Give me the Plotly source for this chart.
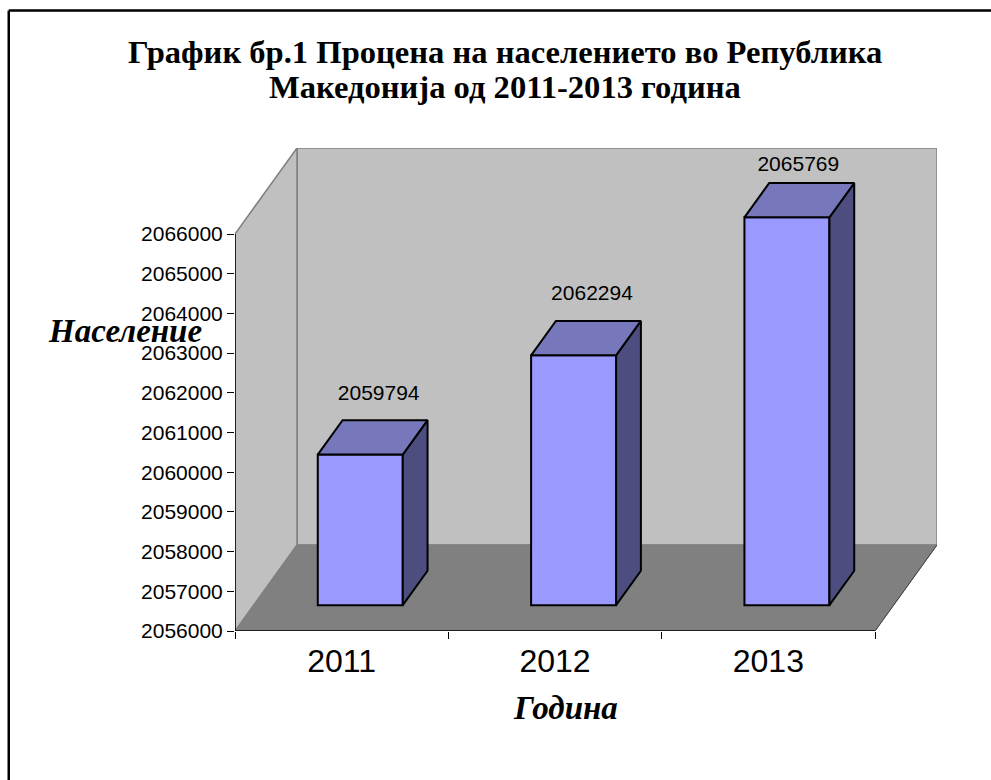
import plotly.graph_objects as go

# ---- data ----
years = ["2011", "2012", "2013"]
population = [2059794, 2062294, 2065769]
y_ticks = [2056000, 2057000, 2058000, 2059000, 2060000, 2061000,
           2062000, 2063000, 2064000, 2065000, 2066000]
title_lines = ["График бр.1 Процена на населението во Република",
               "Македонија од 2011-2013 година"]
y_title = "Население"
x_title = "Година"

# ---- layout geometry (pixels of the 991x780 page) ----
W, H = 991, 780
FL, FR, FB = 235, 875, 631      # front floor edge
Y_TOP_PX = 234                  # pixel of top tick
DX_PX, DY_PX = 62, 86           # 3-D depth of the box
Y0, Y1 = y_ticks[0], y_ticks[-1]
x_per_px = len(years) / (FR - FL)
y_per_px = (Y1 - Y0) / (FB - Y_TOP_PX)
DX = DX_PX * x_per_px
DY = DY_PX * y_per_px
BAR_W = 85 * x_per_px
BAR_FRONT = 0.30               # front face sits at this share of depth
BAR_BACK = 0.70
xs = [i + 0.5 for i in range(len(years))]
label_dx_px = [37, 37, 30]      # value-label nudges
label_dy_px = [0, 0, -9]

C_WALL, C_EDGE = "#C0C0C0", "#808080"
C_FRONT, C_TOP, C_SIDE = "#9999FF", "#7777BB", "#4D4D80"
SANS = "Liberation Sans"
SERIF = "Liberation Serif"


def path(pts):
    return "M " + " L ".join(f"{a} {b}" for a, b in pts) + " Z"


X_N = float(len(years))
shapes = [
    dict(type="path", xref="x", yref="y", layer="below", fillcolor=C_WALL,
         line=dict(color=C_EDGE, width=1.5),
         path=path([(DX, Y0 + DY), (X_N + DX, Y0 + DY), (X_N + DX, Y1 + DY), (DX, Y1 + DY)])),
    dict(type="path", xref="x", yref="y", layer="below", fillcolor=C_WALL,
         line=dict(color=C_EDGE, width=1.5),
         path=path([(0, Y0), (DX, Y0 + DY), (DX, Y1 + DY), (0, Y1)])),
    dict(type="path", xref="x", yref="y", layer="below", fillcolor=C_EDGE,
         line=dict(color=C_EDGE, width=1),
         path=path([(0, Y0), (X_N, Y0), (X_N + DX, Y0 + DY), (DX, Y0 + DY)])),
    # outer frame of the chart (top and left only are inside the page)
    dict(type="line", xref="paper", yref="paper", x0=8.75 / W, x1=1, y0=1 - 10.5 / H, y1=1 - 10.5 / H,
         line=dict(color="black", width=2.5)),
    dict(type="line", xref="paper", yref="paper", x0=8.75 / W, x1=8.75 / W, y0=0, y1=1 - 10.5 / H,
         line=dict(color="black", width=2.5)),
]

fig = go.Figure()

# front faces
front_dx = DX * BAR_FRONT
front_dy = DY * BAR_FRONT
back_dx = DX * BAR_BACK
back_dy = DY * BAR_BACK
fig.add_trace(go.Bar(
    x=[x + front_dx for x in xs],
    y=[v - Y0 for v in population],
    base=[Y0 + front_dy] * len(years),
    width=BAR_W,
    marker=dict(color=C_FRONT, line=dict(color="black", width=2)),
    hoverinfo="skip",
))

# top and side faces derived from the same values
top_x, top_y, side_x, side_y = [], [], [], []
for x, v in zip(xs, population):
    l = x + front_dx - BAR_W / 2
    r = x + front_dx + BAR_W / 2
    d = back_dx - front_dx
    ft = v + front_dy
    bt = v + back_dy
    top_x += [l, r, r + d, l + d, l, None]
    top_y += [ft, ft, bt, bt, ft, None]
    side_x += [r, r + d, r + d, r, r, None]
    side_y += [Y0 + front_dy, Y0 + back_dy, bt, ft, Y0 + front_dy, None]
for px_, py_, col in ((side_x, side_y, C_SIDE), (top_x, top_y, C_TOP)):
    fig.add_trace(go.Scatter(x=px_, y=py_, mode="lines", fill="toself", fillcolor=col,
                             line=dict(color="black", width=2), hoverinfo="skip"))

# axis lines that stop at the front of the box
fig.add_trace(go.Scatter(x=[0, 0, X_N], y=[Y1, Y0, Y0], mode="lines",
                         line=dict(color="black", width=1.5), hoverinfo="skip"))
fig.add_trace(go.Scatter(x=[X_N, X_N + DX], y=[Y0, Y0 + DY], mode="lines",
                         line=dict(color="#404040", width=1), hoverinfo="skip"))

# value labels
fig.add_trace(go.Scatter(
    x=[x + n * x_per_px for x, n in zip(xs, label_dx_px)],
    y=[v + DY + n * y_per_px for v, n in zip(population, label_dy_px)],
    mode="text",
    text=[str(v) for v in population],
    textposition="middle center",
    textfont=dict(family=SANS, size=21, color="black"),
    hoverinfo="skip",
))

annotations = [
    dict(text=title_lines[0], x=505 / W, y=1 - 52 / H, xref="paper", yref="paper",
         showarrow=False, xanchor="center", yanchor="middle",
         font=dict(family=SERIF, size=32.6, color="black", weight="bold")),
    dict(text=title_lines[1], x=505 / W, y=1 - 87 / H, xref="paper", yref="paper",
         showarrow=False, xanchor="center", yanchor="middle",
         font=dict(family=SERIF, size=32.6, color="black", weight="bold")),
    dict(text=y_title, x=125 / W, y=1 - 331 / H, xref="paper", yref="paper",
         showarrow=False, xanchor="center", yanchor="middle",
         font=dict(family=SERIF, size=33, color="black", weight="bold", style="italic")),
    dict(text=x_title, x=565 / W, y=1 - 708 / H, xref="paper", yref="paper",
         showarrow=False, xanchor="center", yanchor="middle",
         font=dict(family=SERIF, size=33, color="black", weight="bold", style="italic")),
]

fig.update_layout(
    width=W, height=H, autosize=False,
    margin=dict(l=0, r=0, t=0, b=0),
    paper_bgcolor="white", plot_bgcolor="white",
    showlegend=False,
    shapes=shapes,
    annotations=annotations,
    xaxis=dict(
        automargin=False,
        domain=[FL / W, (FR + DX_PX) / W],
        range=[0, X_N + DX],
        tickmode="array", tickvals=xs, ticktext=years,
        ticks="outside", ticklen=2, tickcolor="rgba(0,0,0,0)",
        tickfont=dict(family=SANS, size=32, color="black"),
        showgrid=False, zeroline=False, showline=False,
        minor=dict(tickmode="array", tickvals=list(range(len(years) + 1)),
                   ticks="outside", ticklen=7, tickwidth=1, tickcolor="black", showgrid=False),
    ),
    yaxis=dict(
        automargin=False,
        domain=[(H - FB) / H, (H - FB + (FB - Y_TOP_PX) + DY_PX) / H],
        range=[Y0, Y1 + DY],
        tickmode="array", tickvals=y_ticks, ticktext=[str(t) for t in y_ticks],
        ticks="outside", ticklen=7, tickwidth=1, tickcolor="black",
        tickfont=dict(family=SANS, size=21, color="black"),
        showgrid=False, zeroline=False, showline=False,
    ),
)

fig.write_html("out.html", config={"displayModeBar": False, "responsive": False},
               default_width=f"{W}px", default_height=f"{H}px",
               post_script="document.body.style.margin='0';document.documentElement.style.overflow='hidden';")
